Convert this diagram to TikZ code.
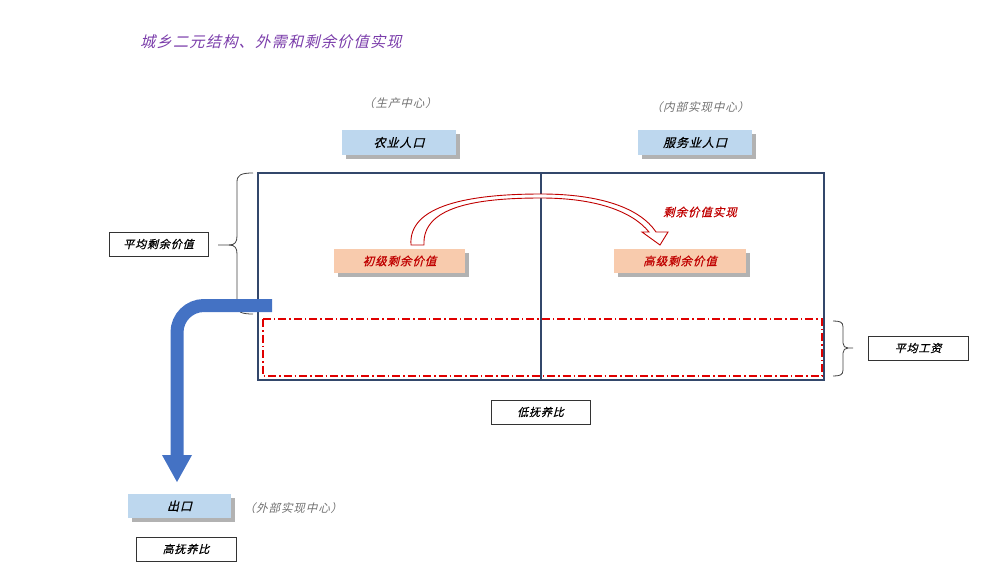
\documentclass[tikz,border=0pt]{standalone}
\usepackage{fontspec}
\newfontfamily\cjk[FakeSlant=0.25,LetterSpace=8]{Noto Sans CJK SC}
\newfontfamily\cjkb[FakeSlant=0.25,FakeBold=0.6,LetterSpace=8]{Noto Sans CJK SC}
\usetikzlibrary{shadows}
\definecolor{boxblue}{HTML}{BDD7EE}
\definecolor{boxorange}{HTML}{F8CBAD}
\definecolor{navy}{HTML}{33476B}
\definecolor{arrowblue}{HTML}{4472C4}
\definecolor{dred}{HTML}{C00000}
\definecolor{lred}{HTML}{E00000}
\definecolor{titlepurple}{HTML}{7A3CAA}
\definecolor{labgray}{HTML}{707070}
\begin{document}
\begin{tikzpicture}[x=1pt,y=-1pt,
  shadowed/.style={drop shadow={shadow xshift=4pt,shadow yshift=-4pt,fill=black,opacity=0.3}},
  bluebox/.style={shadowed,fill=boxblue,minimum width=114pt,minimum height=25pt,inner sep=0pt,font=\cjkb\fontsize{12}{12}\selectfont},
  orangebox/.style={shadowed,fill=boxorange,minimum width=131pt,minimum height=24pt,inner sep=0pt,text=dred,font=\cjkb\fontsize{11.5}{12}\selectfont},
  linebox/.style={draw=black!80,line width=0.8pt,fill=white,minimum width=99pt,minimum height=24pt,inner sep=0pt,font=\cjkb\fontsize{11}{12}\selectfont},
  graylab/.style={text=labgray,font=\cjk\fontsize{11.5}{12}\selectfont,inner sep=0pt},
  bracestyle/.style={draw=black!75,line width=0.8pt}
]
\useasboundingbox (0,0) rectangle (1000,570);

% title
\node[anchor=west,text=titlepurple,font=\cjk\fontsize{15.2}{16}\selectfont,inner sep=0pt] (title) at (140,42) {城乡二元结构、外需和剩余价值实现};

% gray labels
\node[graylab] (prod) at (400,103) {（生产中心）};
\node[graylab] (inner) at (700,107) {（内部实现中心）};

% top boxes
\node[bluebox] (agri) at (399,142.5) {农业人口};
\node[bluebox] (serv) at (695,142.5) {服务业人口};

% main rectangle
\draw[navy,line width=1.1pt] (258,173) rectangle (824,380);
\draw[navy,line width=1.1pt] (541,173) -- (541,380);

% red dash-dot rectangle
\draw[lred,line width=1.4pt,dash pattern=on 8pt off 3pt on 1.5pt off 3pt] (263,319) rectangle (822,376);

% curved block arrow
\draw[dred,line width=0.9pt,fill=white]
  (411,245) .. controls (408,205) and (470,194) .. (541,194)
  .. controls (600,194) and (640,208) .. (656,232)
  -- (668,232) -- (660,245) -- (642,232) -- (649,232)
  .. controls (632,211) and (595,198) .. (541,198)
  .. controls (475,198) and (422,207) .. (424,245) -- cycle;
\node[text=dred,font=\cjkb\fontsize{11.5}{12}\selectfont,inner sep=0pt] (real) at (700,212) {剩余价值实现};

% surplus boxes
\node[orangebox] (primary) at (399.5,261) {初级剩余价值};
\node[orangebox,minimum width=132pt] (higher) at (680,261) {高级剩余价值};

% left brace
\draw[bracestyle] (253,173) .. controls (241,173) and (237,175) .. (237,182)
  -- (237,236) .. controls (237,242) and (235,245) .. (229,245) -- (218,245);
\draw[bracestyle] (229,245) .. controls (235,245) and (237,248) .. (237,254)
  -- (237,305) .. controls (237,312) and (241,314) .. (253,314);
\node[linebox] (avgsur) at (158.5,244) {平均剩余价值};

% right brace
\draw[bracestyle] (833,321) .. controls (840,321) and (843,322) .. (843,327)
  -- (843,343) .. controls (843,346) and (845,348) .. (848,348) -- (853,348);
\draw[bracestyle] (848,348) .. controls (845,348) and (843,350) .. (843,353)
  -- (843,370) .. controls (843,375) and (840,376) .. (833,376);
\node[linebox,minimum width=100pt] (wage) at (918,348) {平均工资};

% low dependency
\node[linebox] (low) at (540.5,412) {低抚养比};

% blue arrow
\coordinate (bstart) at (272,305.5);
\coordinate (bend) at (177,457);
\draw[arrowblue,line width=13pt,rounded corners=27pt] (bstart) -| (bend);
\fill[arrowblue] (162,455) -- (192,455) -- (177,482) -- cycle;

% export
\node[bluebox,minimum width=103pt,minimum height=24pt] (export) at (179.5,506) {出口};
\node[graylab] (outer) at (293,508) {（外部实现中心）};
\node[linebox,minimum width=100pt] (high) at (186,549) {高抚养比};

\end{tikzpicture}
\end{document}
